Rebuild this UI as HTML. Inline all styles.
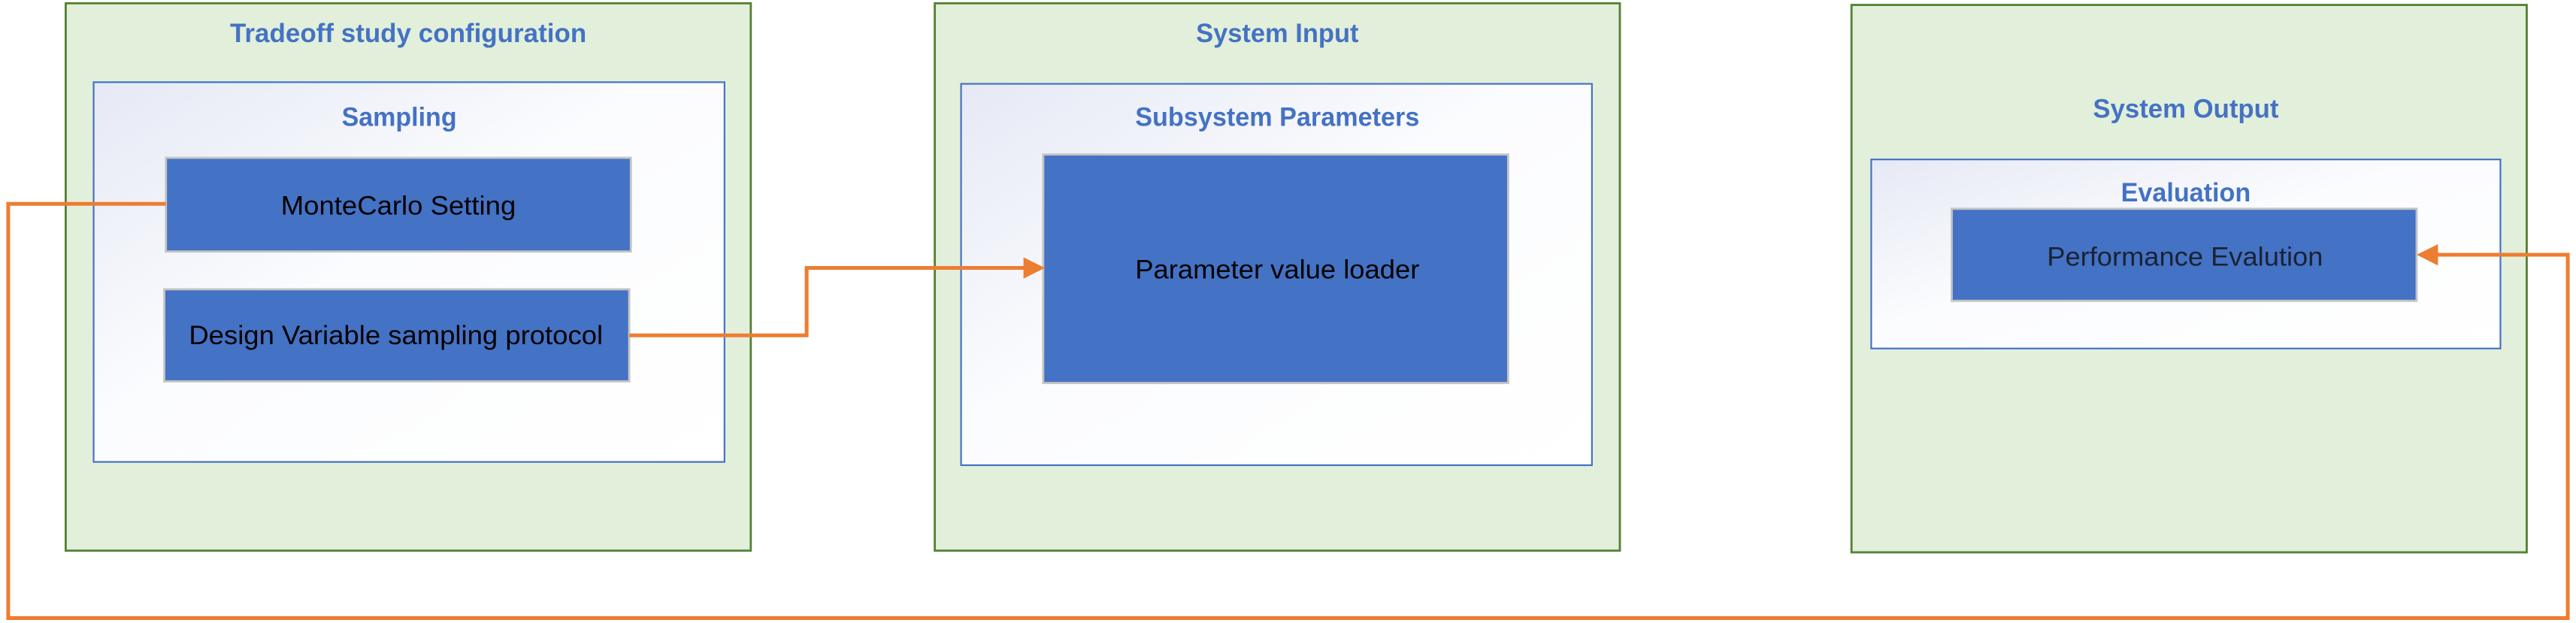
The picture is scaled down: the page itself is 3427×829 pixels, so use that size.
<!DOCTYPE html>
<html><head><meta charset="utf-8"><style>
html,body{margin:0;padding:0;background:#fff;}
svg{display:block;}
text{font-family:"Liberation Sans",sans-serif;}
</style></head><body>
<svg width="3427" height="829" viewBox="0 0 1568 379" preserveAspectRatio="none" xmlns="http://www.w3.org/2000/svg">
<defs>
<linearGradient id="g" x1="0" y1="0" x2="1" y2="1">
<stop offset="0" stop-color="#e6e9f5"/>
<stop offset="0.45" stop-color="#fbfcfe"/>
<stop offset="1" stop-color="#ffffff"/>
</linearGradient>
</defs>
<rect x="0" y="0" width="1568" height="379" fill="#fff"/>
<rect x="40" y="2" width="417" height="333" fill="#e2efda" stroke="#548235" stroke-width="1.3"/>
<rect x="569" y="2" width="417" height="333" fill="#e2efda" stroke="#548235" stroke-width="1.3"/>
<rect x="1127" y="3" width="411" height="333" fill="#e2efda" stroke="#548235" stroke-width="1.3"/>
<rect x="57" y="50" width="384" height="231" fill="url(#g)" stroke="#4472c4" stroke-width="1"/>
<rect x="585" y="51" width="384" height="232" fill="url(#g)" stroke="#4472c4" stroke-width="1"/>
<rect x="1139" y="97" width="383" height="115" fill="url(#g)" stroke="#4472c4" stroke-width="1"/>
<rect x="101" y="96" width="283" height="57" fill="#4472c4" stroke="#c4c4c4" stroke-width="1.3"/>
<rect x="100" y="176" width="283" height="56" fill="#4472c4" stroke="#c4c4c4" stroke-width="1.3"/>
<rect x="635" y="94" width="283" height="139" fill="#4472c4" stroke="#c4c4c4" stroke-width="1.3"/>
<rect x="1188" y="127" width="283" height="56" fill="#4472c4" stroke="#c4c4c4" stroke-width="1.3"/>
<g fill="#4472c4" font-weight="bold" font-size="16">
<text x="140" y="25.5" textLength="217" lengthAdjust="spacingAndGlyphs">Tradeoff study configuration</text>
<text x="208" y="76.5" textLength="70" lengthAdjust="spacingAndGlyphs">Sampling</text>
<text x="728" y="25.5" textLength="99" lengthAdjust="spacingAndGlyphs">System Input</text>
<text x="691" y="76.5" textLength="173" lengthAdjust="spacingAndGlyphs">Subsystem Parameters</text>
<text x="1274" y="71.5" textLength="113" lengthAdjust="spacingAndGlyphs">System Output</text>
<text x="1291" y="122.5" textLength="79" lengthAdjust="spacingAndGlyphs">Evaluation</text>
</g>
<g fill="#000" font-size="16">
<text x="171" y="130.5" textLength="143" lengthAdjust="spacingAndGlyphs">MonteCarlo Setting</text>
<text x="115" y="209.5" textLength="252" lengthAdjust="spacingAndGlyphs">Design Variable sampling protocol</text>
<text x="691" y="169.5" textLength="173" lengthAdjust="spacingAndGlyphs">Parameter value loader</text>
<text x="1246" y="161.5" fill="#1a2233" textLength="168" lengthAdjust="spacingAndGlyphs">Performance Evalution</text>
</g>
<g fill="none" stroke="#ed7d31" stroke-width="2.3">
<polyline points="101,124 5,124 5,376 1563,376 1563,155 1482,155"/>
<polyline points="383,204 491,204 491,163 625,163"/>
</g>
<polygon points="636,163 623,156.5 623,169.5" fill="#ed7d31"/>
<polygon points="1471,155 1484,148.5 1484,161.5" fill="#ed7d31"/>
</svg>
</body></html>
